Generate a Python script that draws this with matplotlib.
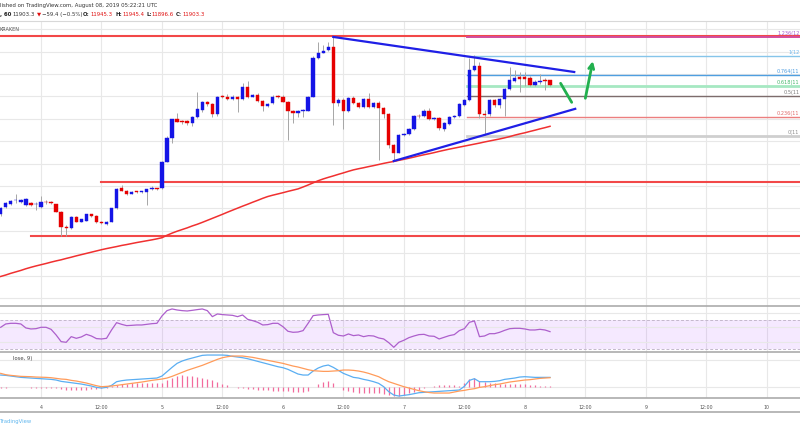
import matplotlib
matplotlib.use('Agg')
import matplotlib.pyplot as plt
import numpy as np

# ---------------- data (hourly candles, hours since Aug 4 00:00 UTC) ----------------
hours = list(range(-8, 102))

opens = [10747, 10810, 10837, 10871, 10857, 10830, 10846, 10835, 10810, 10860,
         10860, 10837, 10771, 10631, 10622, 10726, 10681, 10690, 10747, 10732,
         10681, 10658, 10681, 10801, 10980, 10958, 10929, 10949, 10946, 10949,
         10971, 10980, 10980, 11217, 11426, 11596, 11580, 11580, 11560, 11614,
         11679, 11753, 11732, 11643, 11797, 11792, 11774, 11792, 11774, 11887,
         11799, 11813, 11762, 11717, 11739, 11797, 11797, 11753, 11672, 11649,
         11670, 11672, 11797, 12140, 12190, 12214, 12239, 11739, 11768, 11672,
         11783, 11739, 11703, 11774, 11703, 11744, 11694, 11640, 11366, 11297,
         11455, 11464, 11509, 11625, 11625, 11672, 11602, 11605, 11509, 11554,
         11614, 11625, 11723, 11768, 12036, 12072, 11643, 11643, 11768, 11723,
         11774, 11864, 11940, 11971, 11971, 11962, 11902, 11926, 11947, 11945.3]
highs = [10812, 10857, 10875, 10929, 10884, 10893, 10857, 10860, 10911, 10875,
         10866, 10839, 10777, 10652, 10732, 10732, 10705, 10754, 10750, 10741,
         10687, 10687, 10804, 10978, 11009, 10964, 10955, 10955, 10955, 10973,
         11000, 10982, 11223, 11446, 11598, 11649, 11589, 11589, 11625, 11842,
         11759, 11759, 11741, 11804, 11813, 11822, 11813, 11804, 11917, 11940,
         11822, 11831, 11768, 11741, 11813, 11813, 11813, 11759, 11679, 11679,
         11688, 11804, 12161, 12286, 12259, 12286, 12331, 11786, 11786, 11795,
         11804, 11750, 11786, 11828, 11750, 11759, 11706, 11652, 11375, 11464,
         11473, 11518, 11634, 11643, 11688, 11697, 11616, 11616, 11572, 11625,
         11634, 11741, 11777, 12140, 12170, 12107, 11679, 11777, 11777, 11786,
         11875, 12065, 12036, 12021, 12018, 11982, 11947, 12000, 11964, 11945.4]
lows = [10732, 10804, 10830, 10848, 10848, 10821, 10821, 10786, 10801, 10839,
        10839, 10768, 10556, 10556, 10616, 10679, 10679, 10688, 10723, 10670,
        10661, 10652, 10679, 10795, 10955, 10920, 10924, 10937, 10937, 10830,
        10964, 10964, 10973, 11214, 11384, 11572, 11554, 11545, 11536, 11607,
        11661, 11714, 11614, 11625, 11786, 11768, 11768, 11664, 11768, 11786,
        11795, 11750, 11672, 11705, 11732, 11786, 11750, 11411, 11560, 11616,
        11619, 11670, 11795, 12134, 12188, 12206, 11545, 11714, 11506, 11661,
        11732, 11697, 11697, 11697, 11697, 11232, 11607, 11339, 11223, 11295,
        11446, 11455, 11500, 11607, 11616, 11589, 11589, 11500, 11491, 11545,
        11607, 11616, 11714, 11759, 12027, 11607, 11455, 11625, 11705, 11697,
        11625, 11857, 11929, 11842, 11893, 11893, 11893, 11911, 11857, 11896.6]
closes = [10801, 10846, 10869, 10875, 10875, 10880, 10833, 10839, 10855, 10855,
          10846, 10771, 10631, 10625, 10726, 10681, 10703, 10747, 10732, 10676,
          10667, 10681, 10801, 10973, 10958, 10929, 10949, 10946, 10949, 10971,
          10980, 10973, 11217, 11426, 11596, 11574, 11569, 11560, 11614, 11685,
          11753, 11732, 11643, 11797, 11795, 11774, 11792, 11774, 11887, 11792,
          11813, 11762, 11717, 11732, 11797, 11795, 11753, 11672, 11649, 11672,
          11679, 11797, 12140, 12190, 12208, 12239, 11744, 11768, 11672, 11783,
          11739, 11703, 11774, 11703, 11739, 11694, 11640, 11366, 11297, 11455,
          11464, 11509, 11625, 11622, 11672, 11596, 11605, 11515, 11560, 11614,
          11625, 11732, 11768, 12036, 12072, 11643, 11634, 11768, 11723, 11774,
          11864, 11947, 11962, 11956, 11956, 11902, 11926, 11940, 11940, 11903.3]

sma100 = [10192, 10205, 10220, 10233, 10246, 10261, 10274, 10286, 10297, 10308,
          10320, 10331, 10341, 10353, 10364, 10376, 10387, 10398, 10409, 10420,
          10431, 10441, 10450, 10459, 10469, 10477, 10486, 10495, 10503, 10511,
          10519, 10528, 10538, 10560, 10579, 10596, 10611, 10626, 10643, 10658,
          10675, 10693, 10711, 10729, 10747, 10766, 10784, 10802, 10820, 10837,
          10855, 10872, 10890, 10906, 10918, 10929, 10940, 10952, 10963, 10974,
          10991, 11009, 11028, 11047, 11063, 11077, 11090, 11104, 11117, 11131,
          11144, 11154, 11163, 11173, 11182, 11192, 11202, 11211, 11219, 11229,
          11238, 11248, 11258, 11269, 11279, 11288, 11298, 11309, 11319, 11329,
          11338, 11347, 11356, 11365, 11374, 11383, 11393, 11402, 11411, 11420,
          11430, 11441, 11454, 11465, 11475, 11487, 11498, 11510, 11521, 11533]

rsi = [59.9, 64.5, 65.4, 65.4, 64.5, 59.0, 57.6, 58.0, 59.9, 59.9,
       57.1, 49.3, 40.1, 39.2, 47.0, 44.7, 46.6, 50.2, 47.9, 44.3,
       43.8, 44.7, 56.2, 66.3, 64.0, 62.2, 62.6, 63.1, 63.1, 64.0,
       64.9, 65.4, 75.5, 82.9, 85.2, 83.8, 82.9, 82.4, 83.3, 84.3,
       85.2, 82.9, 74.6, 78.3, 77.4, 76.9, 76.4, 74.6, 76.9, 70.9,
       69.1, 66.8, 63.1, 63.6, 65.4, 65.4, 60.8, 54.4, 53.0, 53.4,
       55.3, 65.4, 76.0, 76.9, 77.4, 77.8, 52.5, 48.9, 47.9, 50.7,
       48.4, 49.3, 47.0, 48.4, 47.9, 45.2, 43.8, 38.7, 32.3, 39.2,
       42.0, 45.6, 47.9, 49.8, 50.2, 47.9, 47.5, 43.8, 46.1, 48.4,
       49.8, 55.3, 58.0, 66.8, 68.6, 47.0, 47.9, 51.1, 51.1, 53.0,
       55.7, 58.0, 58.5, 58.5, 57.6, 56.2, 56.2, 57.1, 56.2, 53.9]

macd = [35, 34, 32, 30, 28, 27, 26, 25, 24, 23,
        22, 20, 16, 14, 12, 10, 8, 5, 2, -2,
        -4, -2, 4, 15, 18, 20, 21, 22, 23, 24,
        25, 26, 32, 45, 58, 70, 77, 82, 86, 90,
        94, 95, 95, 95, 95, 94, 91, 89, 87, 84,
        80, 76, 72, 68, 64, 60, 57, 52, 45, 38,
        35, 35, 47, 56, 62, 65, 58, 49, 40, 34,
        28, 26, 22, 19, 15, 10, 0, -15, -25, -28,
        -26, -24, -21, -18, -17, -16, -15, -14, -13, -12,
        -11, -10, 1, 19, 24, 15, 15, 15, 16, 18,
        22, 24, 26, 29, 30, 29, 28, 28, 28, 28]
signal = [40, 36, 34, 32.5, 31, 30.5, 30, 29, 28.5, 28,
          27, 25, 23, 22, 19, 17, 14, 11, 7, 3,
          0, 1, 2, 4, 6, 8, 10, 12, 14, 16.5,
          19, 21, 23, 26, 31, 37, 43, 49, 54, 59,
          64, 70, 76, 82, 87, 90, 92, 92, 92, 90,
          88, 85, 82, 79, 76, 73, 70, 66, 62, 59,
          55, 51, 48, 47, 46, 46, 47, 48, 50, 50,
          49, 47, 44, 40, 35, 30, 22, 15, 10, 5,
          0, -4, -8, -12, -15, -17.5, -19, -19, -19, -19,
          -16, -13, -11, -8, -6, -2, 0, 3, 6, 8,
          11, 14, 16, 18, 20, 21, 23, 25, 26, 27]
hist = [-3, -3, -2, -2, -2, -2, -3, -3, -3, -3,
        -3, -4, -7, -9, -10, -10, -10, -9, -8, -7,
        -5, -3, 2, 6, 8, 9, 10, 10, 10, 10,
        10, 10, 12, 20, 27, 32, 34, 33, 31, 29,
        27, 24, 19, 13, 8, 4, -1, -3, -5, -6,
        -8, -9, -10, -11, -12, -13, -13, -14, -15, -16,
        -16, -14, -2, 8, 14, 17, 10, -1, -9, -14,
        -17, -18, -19, -19, -19, -20, -21, -25, -28, -28,
        -25, -20, -15, -9, -4, 0, 3, 4, 5, 5,
        4, 3, 10, 22, 26, 16, 14, 12, 10, 9,
        9, 9, 8, 8, 8, 6, 5, 3, 2, 1]

# horizontal support/resistance levels and drawings (hour, price)
h_levels = [12339, 11033, 10556]
h_level_start = [-8.2, 12, -2]
upper_trend = [(58, 12331), (105.8, 12018)]
lower_trend = [(70, 11223), (106, 11689)]
fib_low, fib_high = 11450, 12162
fib_start = 84.6
fib_levels = [1.236, 1, 0.764, 0.618, 0.5, 0.236, 0]
# only the start of each level label fits inside the picture's right edge
fib_labels = ['1.236(12', '1(12', '0.764(11', '0.618(11', '0.5(11', '0.236(11', '0(11']
fib_colors = ['#d24d9e', '#86c5ea', '#4f9fe0', '#a6e8c2', '#7d6c6c', '#ec7f7f', '#cfcfcf']
fib_label_colors = ['#a858cf', '#6cb6ee', '#4c9ce0', '#43b76a', '#7a7a7a', '#e06a6a', '#8c8c8c']
fib_widths = [1.4, 1.0, 1.0, 2.0, 1.0, 1.0, 2.0]
green_stroke = [(103.1, 11917), (105.3, 11747)]
green_arrow = [(107.9, 11759), (109.6, 12140)]

day_ticks = [0, 12, 24, 36, 48, 60, 72, 84, 96, 108, 120, 132, 144]
day_labels = ['4', '12:00', '5', '12:00', '6', '12:00', '7', '12:00', '8', '12:00', '9', '12:00', '10']

# ---------------- figure ----------------
W, H = 800, 430
fig = plt.figure(figsize=(8, 4.3), dpi=100)
fig.patch.set_facecolor('white')


def fy(y):
    return 1 - y / H


def add_panel(top, bottom):
    ax = fig.add_axes([0, fy(bottom), 1, (bottom - top) / H])
    for s in ax.spines.values():
        s.set_visible(False)
    ax.set_xlim(-8.135, 150.6)
    ax.tick_params(length=0, labelleft=False, labelbottom=False)
    for t in day_ticks:
        ax.axvline(t, color='#e8e8e8', lw=0.8, zorder=0)
    return ax


grid_c = '#e8e8e8'

# main price panel
ax = add_panel(20.7, 305.7)
ax.set_ylim(9931, 12476)
for p in range(10000, 12600, 200):
    ax.axhline(p, color=grid_c, lw=0.8, zorder=0)

x = np.array(hours, dtype=float)
o = np.array(opens)
c = np.array(closes)
hi = np.array(highs)
lo = np.array(lows)
up = c >= o
cols = np.where(up, '#1414e6', '#e60000')
ax.vlines(x, lo, hi, color='#a6a6a6', lw=0.7, zorder=2)
body_lo = np.minimum(o, c)
body_h = np.maximum(np.abs(c - o), 6)
ax.bar(x, body_h, bottom=body_lo, width=0.66, color=cols, edgecolor=cols, lw=0.3, zorder=3)

ax.plot(x, sma100, color='#f03030', lw=1.1, zorder=4)

for lvl, st in zip(h_levels, h_level_start):
    ax.plot([st, 151], [lvl, lvl], color='#f24848', lw=1.5, zorder=1.5)

# fib retracement
for lvl, lab, col, lc, lw in zip(fib_levels, fib_labels, fib_colors, fib_label_colors, fib_widths):
    price = fib_low + lvl * (fib_high - fib_low)
    ax.plot([fib_start, 151], [price, price], color=col, lw=lw, zorder=1.6)
    ax.text(150.5, price + 8, lab, ha='right', va='bottom',
            fontsize=3.6, color=lc, clip_on=False)

for seg in (upper_trend, lower_trend):
    ax.plot([seg[0][0], seg[1][0]], [seg[0][1], seg[1][1]], color='#1f1fe6', lw=1.6, zorder=5)

ax.plot([green_stroke[0][0], green_stroke[1][0]], [green_stroke[0][1], green_stroke[1][1]],
        color='#22b04e', lw=2.0, solid_capstyle='round', zorder=6)
ax.annotate('', xy=green_arrow[1], xytext=green_arrow[0],
            arrowprops=dict(arrowstyle='->', color='#22b04e', lw=2.0, mutation_scale=9), zorder=6)

# RSI panel
ax_r = add_panel(305.7, 352.3)
ax_r.set_ylim(25.4, 89.7)
ax_r.axhspan(30, 70, color='#9915ff', alpha=0.09, lw=0, zorder=0)
for g in (40, 60, 80):
    ax_r.axhline(g, color=grid_c, lw=0.8, zorder=0)
for g in (30, 70):
    ax_r.axhline(g, color='#c4b8cc', lw=0.7, ls=(0, (3, 2)), zorder=1)
ax_r.plot(x, rsi, color='#ad5fcc', lw=0.9, zorder=3)

# MACD panel
ax_m = add_panel(352.3, 398.3)
ax_m.set_ylim(-34.8, 103.2)
for g in (0, 80):
    ax_m.axhline(g, color=grid_c, lw=0.8, zorder=0)
ax_m.vlines(x, 0, hist, color='#f26b9d', lw=0.9, zorder=2)
ax_m.plot(x, macd, color='#5aaef2', lw=0.9, zorder=3)
ax_m.plot(x, signal, color='#ff9b5a', lw=0.9, zorder=3)
ax_m.text(-1.8, 86, 'lose, 9)', fontsize=3.8, color='#444444', ha='right', va='center')
ax_m.set_xticks(day_ticks)
ax_m.set_xticklabels(day_labels, fontsize=3.4, color='#555555')
ax_m.tick_params(labelbottom=True, pad=4.5)

# separators
for yy, col, lw in ((20.7, '#d8d8d8', 0.8), (305.7, '#ababab', 1.2), (352.3, '#ababab', 1.2),
                    (398.3, '#ababab', 1.2), (411.7, '#ababab', 1.2)):
    fig.add_artist(plt.Line2D([0, 1], [fy(yy), fy(yy)], color=col, lw=lw))

# header texts
fig.text(0.0, fy(6), 'lished on TradingView.com, August 08, 2019 05:22:21 UTC',
         fontsize=3.9, color='#333333', va='center', ha='left')
parts = [(0, ', 60', '#222222', 'bold'), (12.7, '11903.3', '#333333', 'normal'),
         (37.3, '▼', '#e01010', 'normal'), (42, '−59.4 (−0.5%)', '#333333', 'normal'),
         (82.7, 'O:', '#222222', 'bold'), (90.7, '11945.3', '#e01010', 'normal'),
         (115.7, 'H:', '#222222', 'bold'), (122.3, '11945.4', '#e01010', 'normal'),
         (146.7, 'L:', '#222222', 'bold'), (151.7, '11896.6', '#e01010', 'normal'),
         (175.7, 'C:', '#222222', 'bold'), (182.7, '11903.3', '#e01010', 'normal')]
for px, txt, col, wt in parts:
    fig.text(px / W, fy(14.3), txt, fontsize=3.9, color=col, weight=wt, va='center', ha='left')
fig.text(0.0, fy(29.3), 'KRAKEN', fontsize=3.6, color='#555555', va='center', ha='left')
fig.text(0.0, fy(421.7), 'TradingView', fontsize=3.8, color='#5fb6ee', va='center', ha='left')

fig.savefig('out.png', dpi=100, facecolor='white')
